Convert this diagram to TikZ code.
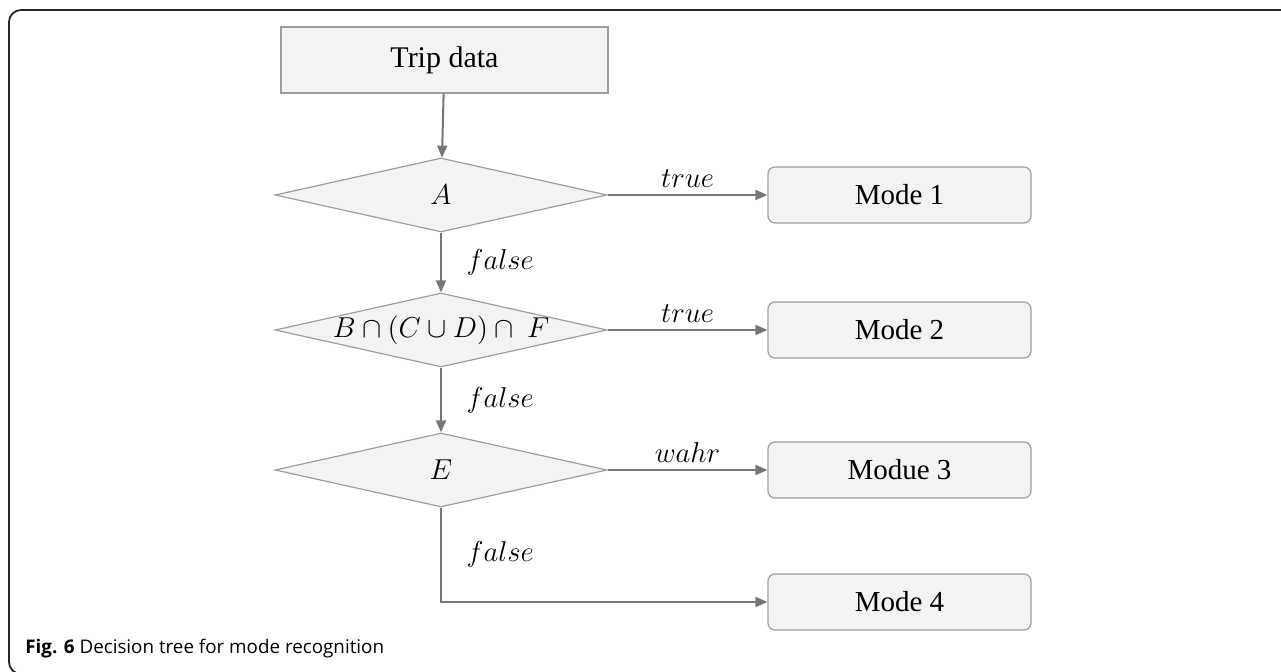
\documentclass[tikz,border=0pt]{standalone}
\usepackage{fontspec}
\setmainfont{Liberation Serif}
\newfontfamily\capfont{Open Sans}
\usetikzlibrary{shapes.geometric, arrows.meta}

\definecolor{boxfill}{HTML}{F3F3F3}
\definecolor{boxline}{HTML}{9E9E9E}
\definecolor{arrowgray}{HTML}{767676}

\begin{document}
\begin{tikzpicture}[x=0.5pt, y=-0.5pt,
    databox/.style={draw=boxline, fill=boxfill, line width=0.6pt, minimum width=163.5pt,
        minimum height=33pt, font=\fontsize{15}{17}\selectfont},
    testnode/.style={diamond, aspect=4.49, draw=boxline, fill=boxfill, line width=0.6pt, inner sep=0pt,
        minimum width=166pt, minimum height=37pt, font=\fontsize{14}{16}\selectfont},
    modebox/.style={draw=boxline, fill=boxfill, line width=0.6pt, rounded corners=3.5pt,
        minimum width=131.5pt, minimum height=28pt, font=\fontsize{14.5}{16}\selectfont},
    flow/.style={-{Triangle[length=6pt, width=5pt]}, arrowgray, line width=1pt},
    edgelabel/.style={font=\fontsize{13.5}{15}\selectfont, text=black}
    ]
    \useasboundingbox (0,0) rectangle (1281,672);
    % frame
    \draw[line width=0.9pt, black!85, rounded corners=6pt] (1290,10) -- (9,10) -- (9,674) -- (40,674);

    % nodes
    \node[databox] (trip) at (444.5,60) {Trip data};
    \node[testnode] (testA) at (441,195) {$A$};
    \node[testnode] (testB) at (441,330) {\makebox[0pt]{$B\cap(C\cup D)\cap\ F$}};
    \node[testnode] (testE) at (441,470) {$E$};
    \node[modebox] (mode1) at (899.5,195) {Mode 1};
    \node[modebox] (mode2) at (899.5,330) {Mode 2};
    \node[modebox] (mode3) at (899.5,470) {Modue 3};
    \node[modebox] (mode4) at (899.5,602) {Mode 4};

    % connectors
    \draw[flow] (trip) -- (testA);
    \draw[flow] (testA) -- node[edgelabel, above] {$true$} (mode1);
    \draw[flow] (testA) -- node[edgelabel, right, xshift=9pt] {$false$} (testB);
    \draw[flow] (testB) -- node[edgelabel, above] {$true$} (mode2);
    \draw[flow] (testB) -- node[edgelabel, right, xshift=9pt] {$false$} (testE);
    \draw[flow] (testE) -- node[edgelabel, above] {$wahr$} (mode3);
    \draw[flow] (testE.south) |- node[edgelabel, right, xshift=9pt, pos=0.25] {$false$} (mode4);

    % caption
    \node[anchor=base west, font=\capfont\fontsize{9.4}{11}\selectfont, inner sep=0pt] (caption)
        at (25,654) {\textbf{Fig. 6} Decision tree for mode recognition};
\end{tikzpicture}
\end{document}
